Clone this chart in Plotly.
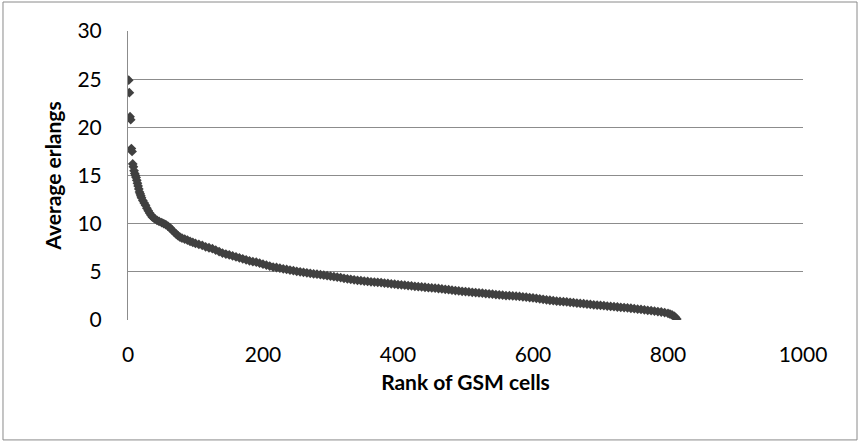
import plotly.graph_objects as go

ranks = [1, 2, 3, 4, 5, 6, 7, 8, 9, 10, 11, 12, 13, 14, 15, 16, 17, 18, 19, 20,
         22, 24, 26, 28, 30, 32, 34, 36, 38, 40, 43, 46, 50, 53, 56, 59, 62, 65, 68, 71,
         74, 77, 80, 84, 88, 92, 96, 100, 105, 110, 115, 120, 125, 130, 135, 140, 145, 150,
         155, 160, 165, 170, 175, 180, 185, 190, 195, 200, 205, 210, 215, 220, 225, 230,
         235, 240, 245, 250, 255, 260, 265, 270, 275, 280, 285, 290, 295, 300, 305, 310,
         315, 320, 325, 330, 335, 340, 345, 350, 355, 360, 365, 370, 375, 380, 385, 390,
         395, 400, 405, 410, 415, 420, 425, 430, 435, 440, 445, 450, 455, 460, 465, 470,
         475, 480, 485, 490, 495, 500, 505, 510, 515, 520, 525, 530, 535, 540, 545, 550,
         555, 560, 565, 570, 575, 580, 585, 590, 595, 600, 605, 610, 615, 620, 625, 630,
         635, 640, 645, 650, 655, 660, 665, 670, 675, 680, 685, 690, 695, 700, 705, 710,
         715, 720, 725, 730, 735, 740, 745, 750, 755, 760, 765, 770, 775, 780, 785, 790,
         795, 800, 803, 806, 809, 811, 813]

erlangs = [24.9, 23.6, 21.1, 20.8, 17.8, 17.5, 16.2, 15.9, 15.5, 15.2, 15.0, 14.8, 14.5, 14.2, 13.9, 13.6, 13.3, 13.1, 12.9, 12.7,
           12.4, 12.15, 11.9, 11.6, 11.35, 11.1, 10.9, 10.7, 10.6, 10.5, 10.35, 10.25, 10.1, 10.0, 9.9, 9.75, 9.6, 9.35, 9.15, 8.95,
           8.75, 8.6, 8.5, 8.4, 8.3, 8.15, 8.05, 7.95, 7.85, 7.75, 7.6, 7.5, 7.4, 7.25, 7.1, 6.95, 6.85, 6.75,
           6.65, 6.55, 6.45, 6.35, 6.25, 6.15, 6.05, 6.0, 5.9, 5.8, 5.7, 5.6, 5.5, 5.45, 5.38, 5.3,
           5.25, 5.18, 5.12, 5.05, 5.0, 4.95, 4.9, 4.85, 4.8, 4.75, 4.7, 4.65, 4.6, 4.55, 4.5, 4.45,
           4.4, 4.33, 4.28, 4.22, 4.17, 4.12, 4.08, 4.04, 4.0, 3.97, 3.94, 3.91, 3.88, 3.84, 3.8, 3.76,
           3.72, 3.68, 3.65, 3.62, 3.58, 3.54, 3.5, 3.46, 3.43, 3.4, 3.36, 3.33, 3.3, 3.27, 3.23, 3.19,
           3.15, 3.1, 3.06, 3.02, 2.98, 2.95, 2.91, 2.88, 2.85, 2.81, 2.78, 2.75, 2.72, 2.68, 2.64, 2.6,
           2.57, 2.54, 2.52, 2.5, 2.47, 2.44, 2.41, 2.37, 2.33, 2.29, 2.25, 2.2, 2.15, 2.1, 2.05, 2.01,
           1.97, 1.93, 1.9, 1.87, 1.83, 1.8, 1.76, 1.72, 1.69, 1.66, 1.62, 1.58, 1.55, 1.52, 1.48, 1.45,
           1.41, 1.38, 1.35, 1.32, 1.29, 1.26, 1.22, 1.18, 1.14, 1.1, 1.06, 1.01, 0.97, 0.93, 0.88, 0.83,
           0.77, 0.7, 0.62, 0.52, 0.4, 0.28, 0.1]

x_ticks = [0, 200, 400, 600, 800, 1000]
y_ticks = [0, 5, 10, 15, 20, 25, 30]

FONT = "Lato, 'Open Sans', sans-serif"
GRID = "#8c8c8c"

fig = go.Figure()
fig.add_trace(go.Scatter(
    x=ranks, y=erlangs, mode="markers",
    marker=dict(symbol="diamond", size=7.5, color="#404040", line=dict(width=0)),
    showlegend=False,
))

fig.update_layout(
    width=859, height=444,
    margin=dict(l=128, r=56, t=31, b=124),
    paper_bgcolor="white", plot_bgcolor="white",
    font=dict(family=FONT, size=21, color="black"),
    xaxis=dict(
        range=[0, 1000], tickvals=x_ticks, ticktext=[str(v) for v in x_ticks],
        showgrid=False, zeroline=False, showline=False, ticks="",
        ticklabelstandoff=20,
        title=dict(text="<b>Rank of GSM cells</b>", font=dict(size=21), standoff=10),
    ),
    yaxis=dict(
        range=[0, 30], tickvals=y_ticks, ticktext=[str(v) for v in y_ticks],
        showgrid=True, gridcolor=GRID, gridwidth=1,
        zeroline=False, showline=True, linecolor=GRID, linewidth=1, ticks="",
        ticklabelstandoff=21,
        title=dict(text="<b>Average erlangs</b>", font=dict(size=21), standoff=10),
    ),
    shapes=[
        dict(type="rect", xref="paper", yref="paper",
             x0=-0.1852, x1=1.08, y0=-0.415, y1=1.1003,
             line=dict(color="#8a8a8a", width=1), fillcolor="rgba(0,0,0,0)", layer="below"),
    ],
)

fig.write_html("out.html", config={"displayModeBar": False},
               post_script="document.body.style.margin='0';")
